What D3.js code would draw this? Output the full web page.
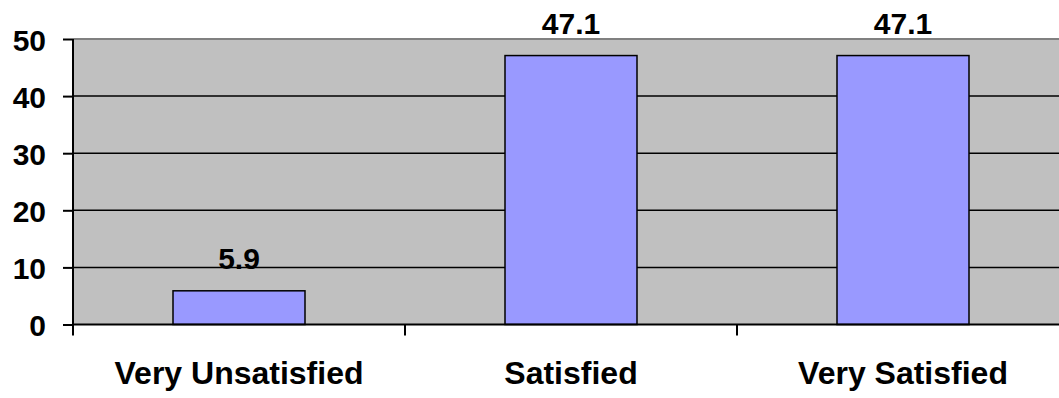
<!DOCTYPE html>
<html><head><meta charset="utf-8">
<script src="https://cdn.jsdelivr.net/npm/d3@7"></script>
<style>body{margin:0;background:#fff}svg{display:block}</style>
</head><body>
<svg id="c" width="1059" height="398"></svg>
<script>
const categories = ["Very Unsatisfied", "Satisfied", "Very Satisfied"];
const values = [5.9, 47.1, 47.1];
const yTicks = [0, 10, 20, 30, 40, 50];

const svg = d3.select("#c");
const pLeft = 73, pRight = 1069, pTop = 39, pBottom = 324.5;
const font = "'Liberation Sans', Arial, sans-serif";

const x = d3.scaleBand().domain(categories).range([pLeft, pRight]).paddingInner(0).paddingOuter(0);
const y = d3.scaleLinear().domain([0, 50]).range([pBottom, pTop]);
const barW = x.bandwidth() * 132 / 332;

// plot background
svg.append("rect").attr("x", pLeft).attr("y", pTop).attr("width", pRight - pLeft).attr("height", pBottom - pTop).attr("fill", "#C0C0C0");

// gridlines
svg.append("g").selectAll("line").data(yTicks.filter(t => t > 0 && t < 50)).join("line")
  .attr("x1", pLeft).attr("x2", pRight).attr("y1", d => y(d)).attr("y2", d => y(d))
  .attr("stroke", "#000").attr("stroke-width", 1.5);
// top border
svg.append("line").attr("x1", pLeft).attr("x2", pRight).attr("y1", y(50)).attr("y2", y(50)).attr("stroke", "#808080").attr("stroke-width", 2);

// bars
svg.append("g").selectAll("rect").data(values).join("rect")
  .attr("x", (d, i) => x(categories[i]) + (x.bandwidth() - barW) / 2)
  .attr("y", d => y(d)).attr("width", barW).attr("height", d => y(0) - y(d))
  .attr("fill", "#9999FF").attr("stroke", "#000").attr("stroke-width", 1.5);

// value labels
svg.append("g").selectAll("text").data(values).join("text")
  .attr("x", (d, i) => x(categories[i]) + x.bandwidth() / 2)
  .attr("y", d => y(d) - 22)
  .attr("text-anchor", "middle").attr("font-family", font).attr("font-weight", "bold").attr("font-size", 30)
  .text(d => d.toFixed(1));

// y axis
const yAxis = d3.axisLeft(y).tickValues(yTicks).tickSize(10).tickPadding(17).tickFormat(d3.format("d"));
const ga = svg.append("g").attr("transform", `translate(${pLeft},0)`).call(yAxis);
ga.select(".domain").remove();
ga.selectAll(".tick line").attr("stroke", "#000").attr("stroke-width", 2);
ga.selectAll(".tick text").attr("font-family", font).attr("font-weight", "bold").attr("font-size", 30).attr("fill", "#000").attr("dy", "0.37em");
svg.append("line").attr("x1", pLeft).attr("x2", pLeft).attr("y1", pTop).attr("y2", pBottom + 11).attr("stroke", "#000").attr("stroke-width", 2);

// x axis
svg.append("line").attr("x1", pLeft).attr("x2", pRight).attr("y1", pBottom).attr("y2", pBottom).attr("stroke", "#000").attr("stroke-width", 2);
const xb = [x(categories[1]), x(categories[2])];
svg.append("g").selectAll("line").data(xb).join("line")
  .attr("x1", d => d).attr("x2", d => d).attr("y1", pBottom).attr("y2", pBottom + 11)
  .attr("stroke", "#000").attr("stroke-width", 2);
svg.append("g").selectAll("text").data(categories).join("text")
  .attr("x", d => x(d) + x.bandwidth() / 2).attr("y", 384)
  .attr("text-anchor", "middle").attr("font-family", font).attr("font-weight", "bold").attr("font-size", 32)
  .text(d => d);
</script>
</body></html>
